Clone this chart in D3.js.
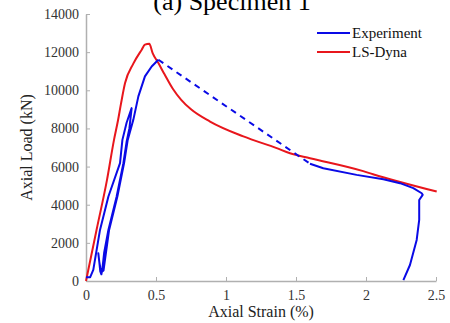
<!DOCTYPE html>
<html>
<head>
<meta charset="utf-8">
<script src="https://cdn.jsdelivr.net/npm/d3@7"></script>
<style>
  body { margin: 0; background: #fff; }
  svg text { font-family: "Liberation Serif", "Times New Roman", serif !important; }
</style>
</head>
<body>
<div id="chart"></div>
<script>
// data (strain %, load kN)
const lsDyna = [
  [0, 0], [0.076, 2700], [0.15, 5300], [0.2, 7400], [0.228, 8400], [0.25, 9300],
  [0.279, 10380], [0.338, 11400], [0.398, 12130], [0.421, 12390], [0.452, 12440],
  [0.476, 11950], [0.517, 11430], [0.56, 10850], [0.62, 10080],
  [0.68, 9500], [0.75, 9000], [0.886, 8360], [1.124, 7580], [1.362, 6965],
  [1.457, 6700], [1.6, 6440], [1.98, 5760], [2.05, 5600], [2.505, 4690]
];
const expLoad = [
  [0, 200], [0.03, 200], [0.052, 580], [0.1, 2680], [0.16, 4430], [0.243, 6180],
  [0.26, 7400], [0.29, 8300], [0.326, 9065],
  [0.31, 8000], [0.29, 7300], [0.267, 6180], [0.219, 4430], [0.16, 2680],
  [0.13, 1500], [0.118, 700], [0.11, 350], [0.102, 500], [0.095, 1000], [0.088, 1450],
  [0.095, 1000], [0.108, 450], [0.125, 550], [0.165, 2680], [0.224, 4430],
  [0.272, 6180], [0.298, 7400], [0.338, 8450], [0.374, 9680], [0.421, 10730],
  [0.469, 11250], [0.517, 11600]
];
const expGap = [[0.517, 11600], [1.6, 6150]];
const expPost = [
  [1.6, 6150], [1.695, 5915], [1.933, 5565], [2.124, 5340], [2.243, 5130],
  [2.338, 4870], [2.398, 4600], [2.405, 4515], [2.38, 4250], [2.38, 3200],
  [2.362, 2150], [2.314, 840], [2.267, 50]
];
const xTicks = [0, 0.5, 1, 1.5, 2, 2.5];
const yTicks = [0, 2000, 4000, 6000, 8000, 10000, 12000, 14000];

const W = 450, H = 323;
const m = { left: 86, right: 14, top: 14, bottom: 42 };

const svg = d3.select("#chart").append("svg")
  .attr("width", W).attr("height", H);

const x = d3.scaleLinear().domain([0, 2.5]).range([m.left, W - m.right]);
const y = d3.scaleLinear().domain([0, 14000]).range([H - m.bottom, m.top]);

// axes
const xAxis = svg.append("g")
  .attr("transform", `translate(0,${H - m.bottom})`)
  .call(d3.axisBottom(x).tickValues(xTicks).tickSizeInner(-4).tickSizeOuter(0).tickPadding(9)
    .tickFormat(d => String(d)));
const yAxis = svg.append("g")
  .attr("transform", `translate(${m.left},0)`)
  .call(d3.axisLeft(y).tickValues(yTicks).tickSizeInner(-4).tickSizeOuter(0).tickPadding(7)
    .tickFormat(d => String(d)));

[xAxis, yAxis].forEach(g => {
  g.attr("font-family", null).attr("font-size", 14);
  g.select(".domain").attr("stroke", "#b0b0b0").attr("stroke-width", 1.5);
  g.selectAll(".tick line").attr("stroke", "#b0b0b0");
  g.selectAll(".tick text").attr("fill", "#333")
    .style("font-family", "'Liberation Serif', serif");
});

const line = d3.line().x(d => x(d[0])).y(d => y(d[1]));
const smooth = d3.line().x(d => x(d[0])).y(d => y(d[1])).curve(d3.curveMonotoneX);

svg.append("path").attr("d", smooth(lsDyna))
  .attr("fill", "none").attr("stroke", "#e8161c").attr("stroke-width", 2);
svg.append("path").attr("d", line(expLoad))
  .attr("fill", "none").attr("stroke", "#0a0ae6").attr("stroke-width", 2)
  .attr("stroke-linejoin", "round");
svg.append("path").attr("d", line(expGap))
  .attr("fill", "none").attr("stroke", "#0a0ae6").attr("stroke-width", 2)
  .attr("stroke-dasharray", "6,5");
svg.append("path").attr("d", line(expPost))
  .attr("fill", "none").attr("stroke", "#0a0ae6").attr("stroke-width", 2)
  .attr("stroke-linejoin", "round");

// legend
const legend = [
  { name: "Experiment", color: "#0a0ae6" },
  { name: "LS-Dyna", color: "#e8161c" }
];
const lg = svg.append("g");
legend.forEach((d, i) => {
  const yy = 33 + i * 19;
  lg.append("line").attr("x1", 317).attr("x2", 350).attr("y1", yy).attr("y2", yy)
    .attr("stroke", d.color).attr("stroke-width", 2);
  lg.append("text").attr("x", 352).attr("y", yy + 5).text(d.name)
    .attr("font-size", 15).attr("fill", "#111");
});

// titles
svg.append("text").attr("x", 232).attr("y", 10).attr("text-anchor", "middle")
  .attr("font-size", 26).attr("fill", "#000").text("(a) Specimen 1");
svg.append("text").attr("x", (m.left + W - m.right) / 2).attr("y", 317)
  .attr("text-anchor", "middle").attr("font-size", 16).attr("fill", "#222")
  .text("Axial Strain (%)");
svg.append("text").attr("transform", `translate(32,${(m.top + H - m.bottom) / 2}) rotate(-90)`)
  .attr("text-anchor", "middle").attr("font-size", 16).attr("fill", "#222")
  .text("Axial Load (kN)");
</script>
</body>
</html>
